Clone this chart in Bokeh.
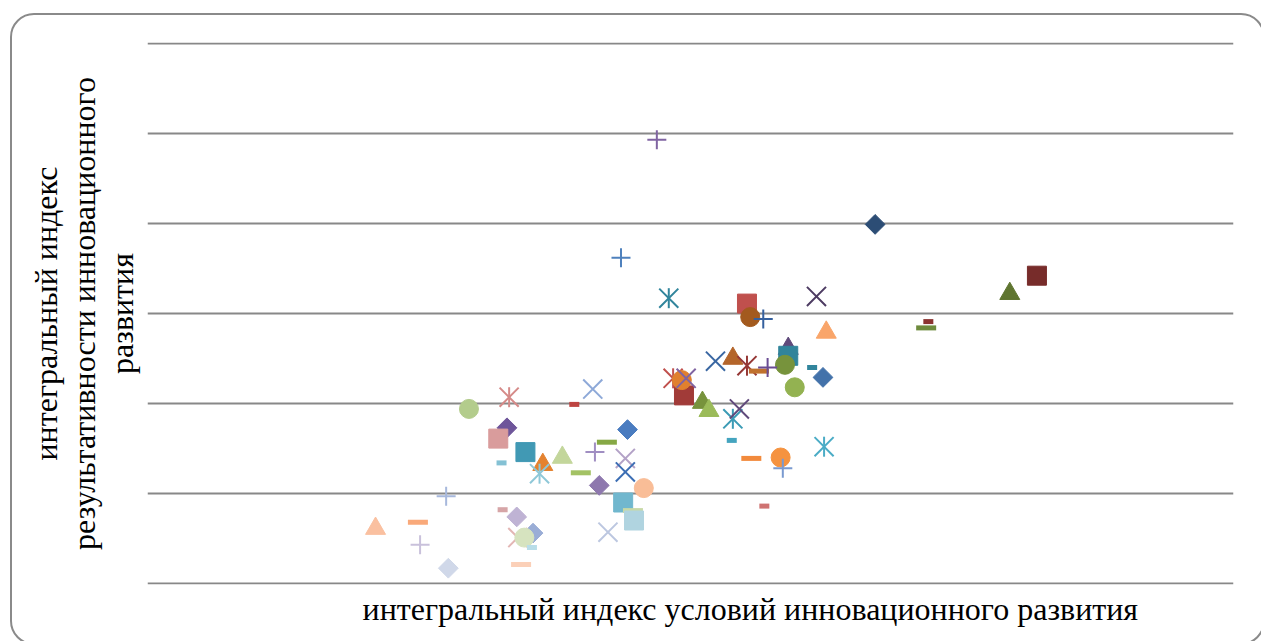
import math
from bokeh.plotting import figure
from bokeh.models import Title, FixedTicker, Range1d, InlineStyleSheet
from bokeh.embed import file_html
from bokeh.resources import INLINE

# ---- data ----
xs = [0.469, 0.436, 0.480, 0.670, 0.819, 0.794, 0.719, 0.717, 0.616, 0.552,
      0.555, 0.567, 0.625, 0.590, 0.590, 0.587, 0.596, 0.612, 0.622, 0.523,
      0.539, 0.552, 0.563, 0.571, 0.494, 0.484, 0.492, 0.496, 0.511, 0.517,
      0.539, 0.545, 0.538, 0.556, 0.583, 0.585, 0.623, 0.568, 0.296, 0.333,
      0.393, 0.410, 0.331, 0.323, 0.348, 0.326, 0.364, 0.361, 0.382, 0.399,
      0.423, 0.442, 0.412, 0.440, 0.440, 0.416, 0.457, 0.438, 0.447, 0.448,
      0.424, 0.275, 0.210, 0.249, 0.251, 0.277, 0.327, 0.340, 0.341, 0.355,
      0.347, 0.354, 0.344]
ys = [0.493, 0.362, 0.317, 0.399, 0.342, 0.322, 0.291, 0.284, 0.319, 0.311,
      0.296, 0.294, 0.279, 0.261, 0.253, 0.243, 0.218, 0.240, 0.229, 0.247,
      0.250, 0.242, 0.236, 0.240, 0.209, 0.228, 0.226, 0.228, 0.201, 0.192,
      0.183, 0.194, 0.159, 0.139, 0.140, 0.128, 0.152, 0.086, 0.194, 0.207,
      0.199, 0.216, 0.173, 0.161, 0.146, 0.134, 0.132, 0.122, 0.140, 0.123,
      0.157, 0.171, 0.146, 0.139, 0.124, 0.109, 0.106, 0.090, 0.081, 0.070,
      0.057, 0.097, 0.061, 0.068, 0.043, 0.017, 0.082, 0.074, 0.051, 0.056,
      0.051, 0.040, 0.021]
markers = ["plus", "plus", "star", "diamond", "square", "triangle", "sdash", "dash", "x", "square",
           "circle", "plus", "triangle", "triangle", "square", "circle", "circle", "sdash", "diamond", "x",
           "triangle", "star", "dash", "plus", "square", "star", "circle", "x", "triangle", "triangle",
           "star", "x", "sdash", "dash", "circle", "plus", "star", "sdash", "circle", "star",
           "sdash", "x", "diamond", "square", "square", "sdash", "triangle", "star", "triangle", "dash",
           "dash", "diamond", "plus", "x", "x", "diamond", "circle", "square", "dash", "square",
           "x", "plus", "triangle", "dash", "plus", "diamond", "sdash", "diamond", "x", "diamond",
           "circle", "sdash", "dash"]
colors = ["#8064A2", "#4F81BD", "#31859C", "#2C4D75", "#772C2A", "#5F7530", "#8B3330", "#6E8B3D", "#4D3B62", "#C0504D",
          "#A35A1E", "#35609E", "#F9A56A", "#604A7B", "#31849B", "#77933C", "#93B251", "#31859C", "#4372AA", "#3A67A2",
          "#B4652A", "#953735", "#C0712E", "#6A4C93", "#A13B38", "#C0504D", "#E0802E", "#8064A2", "#77933C", "#9BBB59",
          "#3B9BB5", "#604A7B", "#44A4BF", "#F28A3C", "#F59340", "#7A9AD0", "#4BACC6", "#CF7372", "#B3CC8C", "#D58A88",
          "#BE4441", "#8EA9D8", "#6E559A", "#D99C9C", "#4199B4", "#84C1D4", "#E4822F", "#8FC8D8", "#C3D69B", "#A3C264",
          "#86A845", "#4A7CC0", "#A08EC2", "#B3A2C7", "#3C6EB4", "#8E78AE", "#F9BD97", "#71B7CE", "#C8D9A6", "#B0D4E0",
          "#BCC7E0", "#A7B8DC", "#FAC0A0", "#F9A97A", "#C9C1DB", "#D0D8E9", "#D6A5A7", "#BFB3D4", "#E3B7B5", "#9AADD6",
          "#D6E3BF", "#B8DDE8", "#FBD0B8"]

grid_values = [0.0, 0.1, 0.2, 0.3, 0.4, 0.5, 0.6]
x_title = "интегральный индекс условий инновационного развития"
y_title = "интегральный индекс\nрезультативности инновационного\nразвития"

FONT = "Liberation Serif"
PAD = 1.0 / 900  # one pixel so the edge grid lines are not clipped

frame_css = InlineStyleSheet(css="""
:host { position: relative; overflow: hidden; }
:host::after {
  content: "";
  position: absolute;
  left: 10px; top: 13px; right: -4px; bottom: -4px;
  border: 2px solid #8a8a8a;
  border-radius: 24px;
  box-sizing: border-box;
  pointer-events: none;
}
""")

p = figure(width=1261, height=641, output_backend="svg", toolbar_location=None,
           x_range=Range1d(0, 1), y_range=Range1d(-PAD, 0.6 + PAD),
           min_border_left=147, min_border_right=28, min_border_top=42, min_border_bottom=57,
           stylesheets=[frame_css])
p.outline_line_color = None
p.background_fill_color = "white"
p.border_fill_color = "white"

p.xaxis.visible = False
p.xgrid.visible = False

p.yaxis.ticker = FixedTicker(ticks=[])
p.yaxis.major_tick_line_color = None
p.yaxis.minor_tick_line_color = None
p.yaxis.axis_line_color = None
p.yaxis.axis_label = y_title
p.yaxis.axis_label_text_font = FONT
p.yaxis.axis_label_text_font_size = "32px"
p.yaxis.axis_label_text_font_style = "normal"
p.yaxis.axis_label_text_color = "black"
p.yaxis.axis_label_text_line_height = 1.05
p.yaxis.axis_label_standoff = 8

p.ygrid.ticker = FixedTicker(ticks=grid_values)
p.ygrid.grid_line_color = "#888888"
p.ygrid.grid_line_width = 2

p.add_layout(Title(text=x_title, align="left", offset=215, text_font=FONT,
                   text_font_size="32px", text_font_style="normal",
                   text_color="black", standoff=8), "below")

for x, y, m, c in zip(xs, ys, markers, colors):
    if m == "diamond":
        p.scatter([x], [y], marker="square", size=14, angle=math.pi / 4,
                  fill_color=c, line_color=c)
    elif m == "square":
        p.scatter([x], [y], marker="square", size=19, fill_color=c, line_color=c)
    elif m == "circle":
        p.scatter([x], [y], marker="circle", size=19, fill_color=c, line_color=c)
    elif m == "triangle":
        p.scatter([x], [y], marker="triangle", size=20, fill_color=c, line_color=c)
    elif m == "x":
        p.scatter([x], [y], marker="x", size=27, line_color=c, line_width=2)
    elif m == "plus":
        p.scatter([x], [y], marker="cross", size=19, line_color=c, line_width=2)
    elif m == "star":
        p.scatter([x], [y], marker="x", size=27, line_color=c, line_width=2)
        p.scatter([x], [y], marker="dash", size=20, angle=math.pi / 2,
                  line_color=c, line_width=2)
    elif m == "dash":
        p.rect([x], [y], width=20, height=5, width_units="screen",
               height_units="screen", fill_color=c, line_color=None)
    elif m == "sdash":
        p.rect([x], [y], width=10, height=5, width_units="screen",
               height_units="screen", fill_color=c, line_color=None)

open("out.html", "w").write(file_html(p, INLINE))
